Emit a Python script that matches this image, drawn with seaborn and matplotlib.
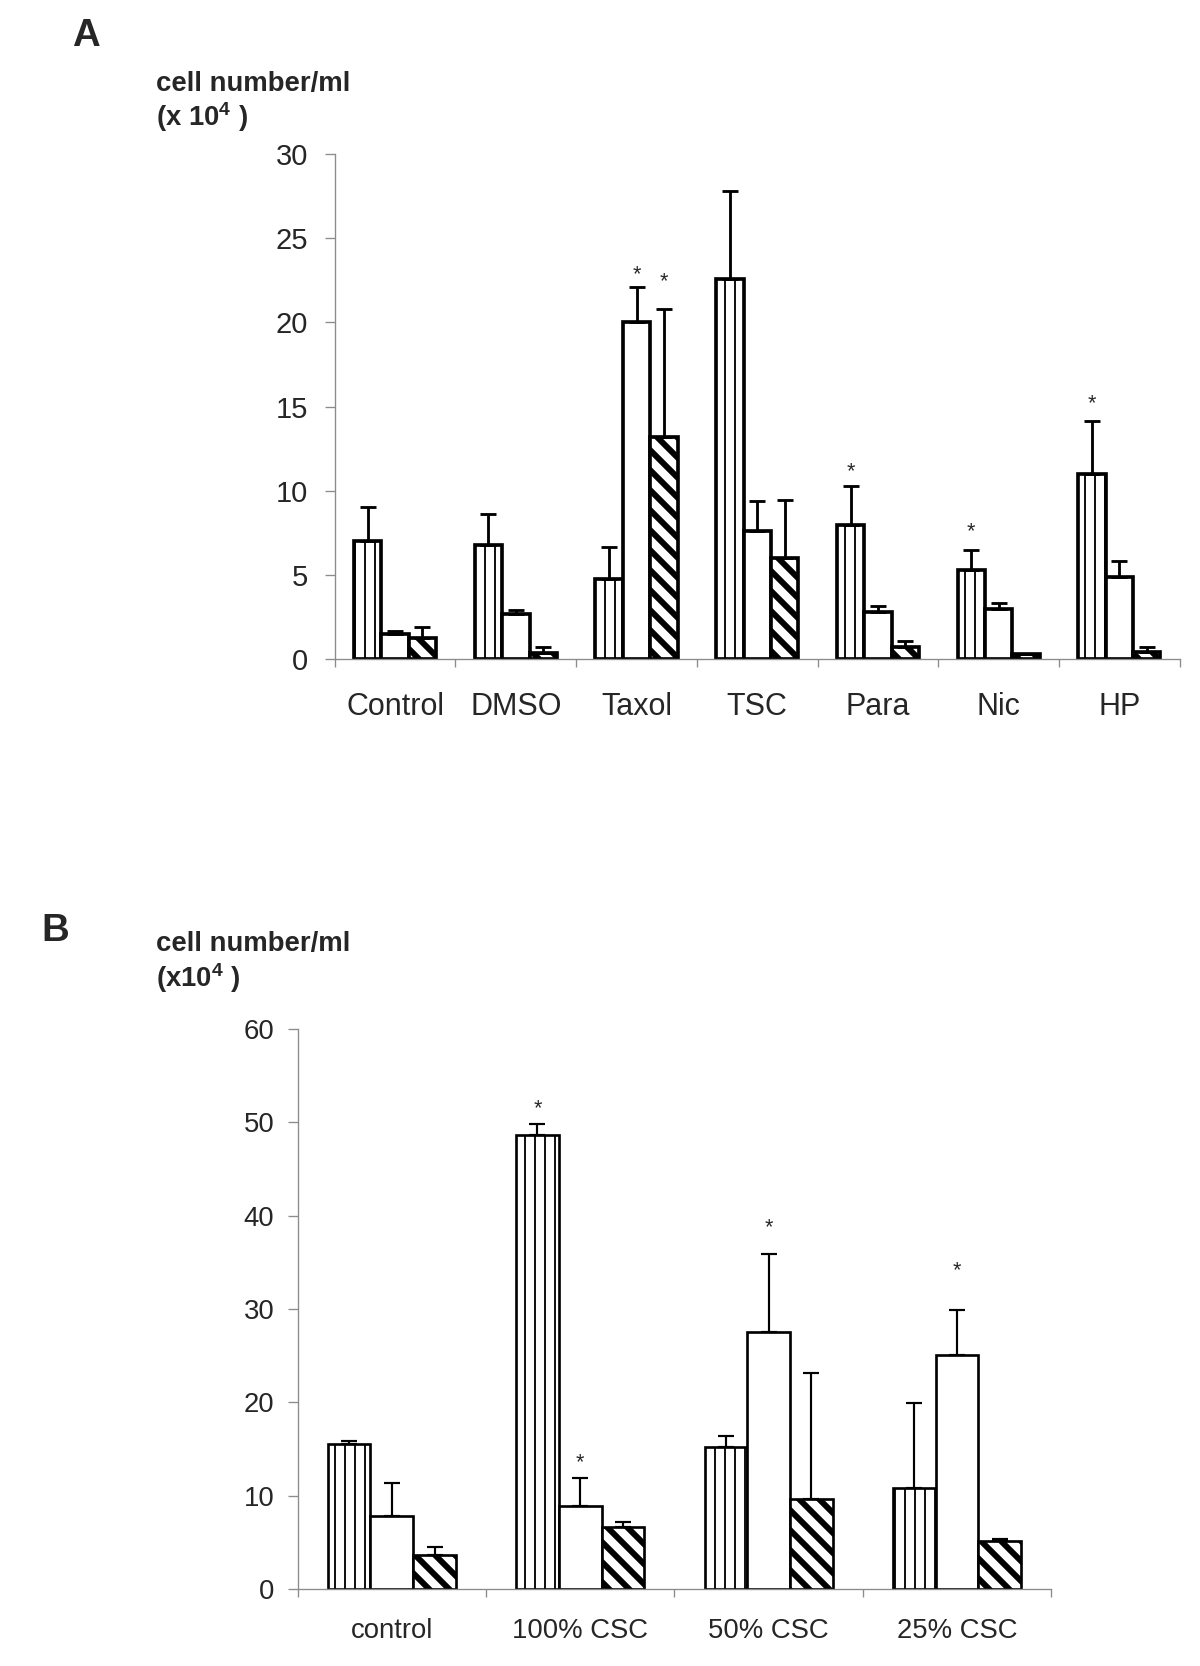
import matplotlib
matplotlib.use("Agg")
import matplotlib.pyplot as plt
from matplotlib.container import BarContainer
import seaborn as sns
import pandas as pd
import numpy as np

# panel A values (x 10^4 cells/ml)
a_groups = ['Control', 'DMSO', 'Taxol', 'TSC', 'Para', 'Nic', 'HP']
a_vert = [7.0, 6.8, 4.75, 22.6, 7.95, 5.3, 11.0]
a_vert_err = [2.05, 1.8, 1.9, 5.2, 2.3, 1.2, 3.15]
a_open = [1.5, 2.65, 20.0, 7.6, 2.8, 2.95, 4.85]
a_open_err = [0.18, 0.25, 2.1, 1.8, 0.38, 0.4, 0.95]
a_hatch = [1.25, 0.37, 13.2, 6.0, 0.7, 0.28, 0.43]
a_hatch_err = [0.63, 0.32, 7.6, 3.45, 0.37, 0.05, 0.26]
# significance stars: (group, series, height)
a_stars = [(2, 1, 23.1), (2, 2, 22.7), (4, 0, 11.4), (5, 0, 7.85), (6, 0, 15.45)]

# panel B values
b_groups = ['control', '100% CSC', '50% CSC', '25% CSC']
b_vert = [15.5, 48.7, 15.25, 10.8]
b_vert_err = [0.4, 1.1, 1.1, 9.1]
b_open = [7.85, 8.95, 27.5, 25.05]
b_open_err = [3.55, 2.9, 8.4, 4.85]
b_hatch = [3.6, 6.6, 9.7, 5.2]
b_hatch_err = [0.9, 0.55, 13.5, 0.2]
b_stars = [(1, 0, 52.0), (1, 1, 14.1), (2, 1, 39.3), (3, 1, 34.7)]

series = ['s1', 's2', 's3']
hatches = ['||', '', '\\\\']

sns.set_style('white')
plt.rcParams['font.family'] = ['Liberation Sans', 'DejaVu Sans']
plt.rcParams['mathtext.fontset'] = 'custom'
plt.rcParams['mathtext.rm'] = 'Liberation Sans'
plt.rcParams['mathtext.bf'] = 'Liberation Sans:bold'
plt.rcParams['hatch.color'] = 'black'
plt.rcParams['hatch.linewidth'] = 1.0


def draw_panel(ax, groups, vals, errs, stars, ymax, ystep, edge_lw, err_lw, fs, tick_pad, xpad):
    df = pd.DataFrame({
        'group': groups * 3,
        'value': vals[0] + vals[1] + vals[2],
        'series': sum([[s] * len(groups) for s in series], []),
    })
    sns.barplot(data=df, x='group', y='value', hue='series', hue_order=series,
                order=groups, width=0.68, gap=0, errorbar=None, legend=False, ax=ax)

    bars = [c for c in ax.containers if isinstance(c, BarContainer)]
    for i, cont in enumerate(bars):
        xs, tops = [], []
        for p in cont.patches:
            p.set_facecolor('white')
            p.set_edgecolor('black')
            p.set_linewidth(edge_lw)
            p.set_hatch(hatches[i])
            if hasattr(p, 'set_hatch_linewidth'):
                p.set_hatch_linewidth(1.1 if i == 0 else 3.6)
            xs.append(p.get_x() + p.get_width() / 2)
            tops.append(p.get_height())
        ax.errorbar(xs, tops, yerr=[np.zeros(len(xs)), errs[i]], fmt='none',
                    ecolor='black', elinewidth=err_lw, capsize=5, capthick=err_lw, zorder=3)

    for g, s, y in stars:
        p = bars[s].patches[g]
        ax.annotate('*', (p.get_x() + p.get_width() / 2, y), xytext=(0, -3),
                    textcoords='offset points', ha='center', va='center', fontsize=13)

    n = len(groups)
    ax.set_xlim(-0.5, n - 0.5)
    ax.set_ylim(0, ymax)
    ax.set_yticks(np.arange(0, ymax + 1, ystep))
    ax.set_xticks(np.arange(n))
    ax.set_xticklabels(groups)
    ax.set_xticks(np.arange(n + 1) - 0.5, minor=True)
    ax.set_xlabel('')
    ax.set_ylabel('')
    for side in ['top', 'right']:
        ax.spines[side].set_visible(False)
    for side in ['left', 'bottom']:
        ax.spines[side].set_color('#8c8c8c')
        ax.spines[side].set_linewidth(0.8)
    ax.tick_params(axis='y', left=True, length=6, width=0.8, color='#8c8c8c',
                   labelsize=fs[0], pad=tick_pad)
    ax.tick_params(axis='x', which='major', bottom=False, labelsize=fs[1], pad=xpad)
    ax.tick_params(axis='x', which='minor', bottom=True, length=5, width=0.8, color='#8c8c8c')


fig = plt.figure(figsize=(10, 1666 / 120))

axA = fig.add_axes([0.279, 0.6044, 0.704, 0.3032])
draw_panel(axA, a_groups, [a_vert, a_open, a_hatch], [a_vert_err, a_open_err, a_hatch_err],
           a_stars, 30, 5, 2.2, 1.7, (17.5, 18.3), 10, 16)

axB = fig.add_axes([0.248, 0.0462, 0.628, 0.3361])
draw_panel(axB, b_groups, [b_vert, b_open, b_hatch], [b_vert_err, b_open_err, b_hatch_err],
           b_stars, 60, 10, 1.6, 1.3, (16.5, 16.5), 8, 14)

# panel letters and y axis titles
H = 1666.0
fig.text(72 / 1200, 1 - 18 / H, 'A', fontsize=23, fontweight='bold', va='top')
fig.text(156 / 1200, 1 - 71 / H, 'cell number/ml', fontsize=16.5, fontweight='bold', va='top')
fig.text(156 / 1200, 1 - 100 / H, r'(x $\mathbf{10^4}$ )', fontsize=16.5, fontweight='bold', va='top')

fig.text(41 / 1200, 1 - 913 / H, 'B', fontsize=23, fontweight='bold', va='top')
fig.text(156 / 1200, 1 - 931 / H, 'cell number/ml', fontsize=16.5, fontweight='bold', va='top')
fig.text(156 / 1200, 1 - 961 / H, r'(x$\mathbf{10^4}$ )', fontsize=16.5, fontweight='bold', va='top')

fig.savefig('out.png', dpi=120, facecolor='white')
